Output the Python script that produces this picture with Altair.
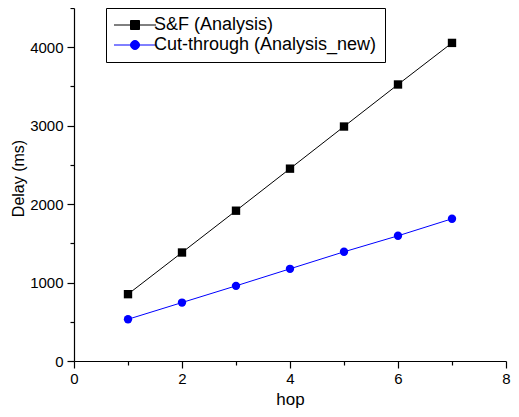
import altair as alt
import pandas as pd

hops = [1, 2, 3, 4, 5, 6, 7]
sf_delay = [852, 1383, 1916, 2452, 2989, 3525, 4055]
ct_delay = [532, 745, 958, 1175, 1392, 1596, 1813]
series_names = ["S&F (Analysis)", "Cut-through (Analysis_new)"]
series_colors = ["#000000", "#0000ff"]
x_major = [0, 2, 4, 6, 8]
x_minor = [1, 3, 5, 7]
y_major = [0, 1000, 2000, 3000, 4000]
y_minor = [500, 1500, 2500, 3500, 4500]

df = pd.DataFrame({
    "hop": hops * 2,
    "delay": sf_delay + ct_delay,
    "series": [series_names[0]] * len(hops) + [series_names[1]] * len(hops),
})

FONT = "Liberation Sans"
xs = alt.Scale(domain=[0, 8], nice=False, zero=False)
ys = alt.Scale(domain=[0, 4500], nice=False)
cs = alt.Scale(domain=series_names, range=series_colors)

x_major_axis = alt.Axis(values=x_major, orient="bottom", tickSize=7, tickWidth=1.2,
                        domainWidth=1.2, domainColor="black", tickColor="black",
                        labelPadding=3, labelFont=FONT, labelFontSize=15, labelColor="black",
                        labelFlush=False, grid=False, format="d",
                        title="hop", titleFont=FONT, titleFontSize=17, titleFontWeight="normal",
                        titleColor="black", titleY=43, titleBaseline="alphabetic")
y_major_axis = alt.Axis(values=y_major, orient="left", tickSize=7, tickWidth=1.2,
                        domainWidth=1.2, domainColor="black", tickColor="black",
                        labelPadding=4, labelFont=FONT, labelFontSize=15, labelColor="black",
                        labelFlush=False, grid=False, format="d",
                        title="Delay (ms)", titleFont=FONT, titleFontSize=16,
                        titleFontWeight="normal", titleColor="black",
                        titleAngle=-90, titleX=-56, titleY=170, titleAlign="center",
                        titleBaseline="middle")
x_minor_axis = alt.Axis(values=x_minor, orient="bottom", tickSize=4, tickWidth=1.2,
                        tickColor="black", domain=False, labels=False, grid=False, title=None)
y_minor_axis = alt.Axis(values=y_minor, orient="left", tickSize=4, tickWidth=1.2,
                        tickColor="black", domain=False, labels=False, grid=False, title=None)

base = alt.Chart(df)

lines = base.mark_line(strokeWidth=1).encode(
    x=alt.X("hop:Q", scale=xs, axis=x_major_axis),
    y=alt.Y("delay:Q", scale=ys, axis=y_major_axis),
    color=alt.Color("series:N", scale=cs, legend=None),
)

points = base.mark_point(filled=True, size=70, opacity=1).encode(
    x=alt.X("hop:Q", scale=xs, axis=x_minor_axis),
    y=alt.Y("delay:Q", scale=ys, axis=y_minor_axis),
    color=alt.Color("series:N", scale=cs, legend=None),
    shape=alt.Shape("series:N", scale=alt.Scale(domain=series_names, range=["square", "circle"]),
                    legend=None),
)

sq_path = "M-4.67,0H4.67M-1,-1H1V1H-1Z"
ci_path = "M-4.67,0H4.67M1,0A1,1,0,1,1,-1,0A1,1,0,1,1,1,0Z"

legend = alt.Legend(orient="none", legendX=32, legendY=0, title=None,
                    strokeColor="black", fillColor="white", padding=8,
                    labelFont=FONT, labelFontSize=18, labelColor="black",
                    symbolSize=81, symbolStrokeWidth=1, symbolOffset=12, symbolOpacity=1,
                    labelOffset=10, rowPadding=2, labelLimit=400)

legend_layer = base.transform_filter("false").mark_point(filled=True, opacity=1).encode(
    x=alt.X("hop:Q", scale=xs, axis=None),
    y=alt.Y("delay:Q", scale=ys, axis=None),
    fill=alt.Fill("series:N", scale=cs, legend=legend),
    stroke=alt.Stroke("series:N", scale=cs, legend=legend),
    shape=alt.Shape("series:N", scale=alt.Scale(domain=series_names, range=[sq_path, ci_path]),
                    legend=legend),
)

chart = alt.layer(lines, points, legend_layer).resolve_axis(
    x="independent", y="independent"
).resolve_scale(
    color="independent", shape="independent", fill="independent", stroke="independent"
).properties(
    width=432, height=353,
    autosize=alt.AutoSizeParams(type="none"),
    padding={"left": 66, "top": 0, "right": 5, "bottom": 47},
).configure_view(stroke=None)

chart.save("out.html", embed_options={"renderer": "svg", "actions": False})
